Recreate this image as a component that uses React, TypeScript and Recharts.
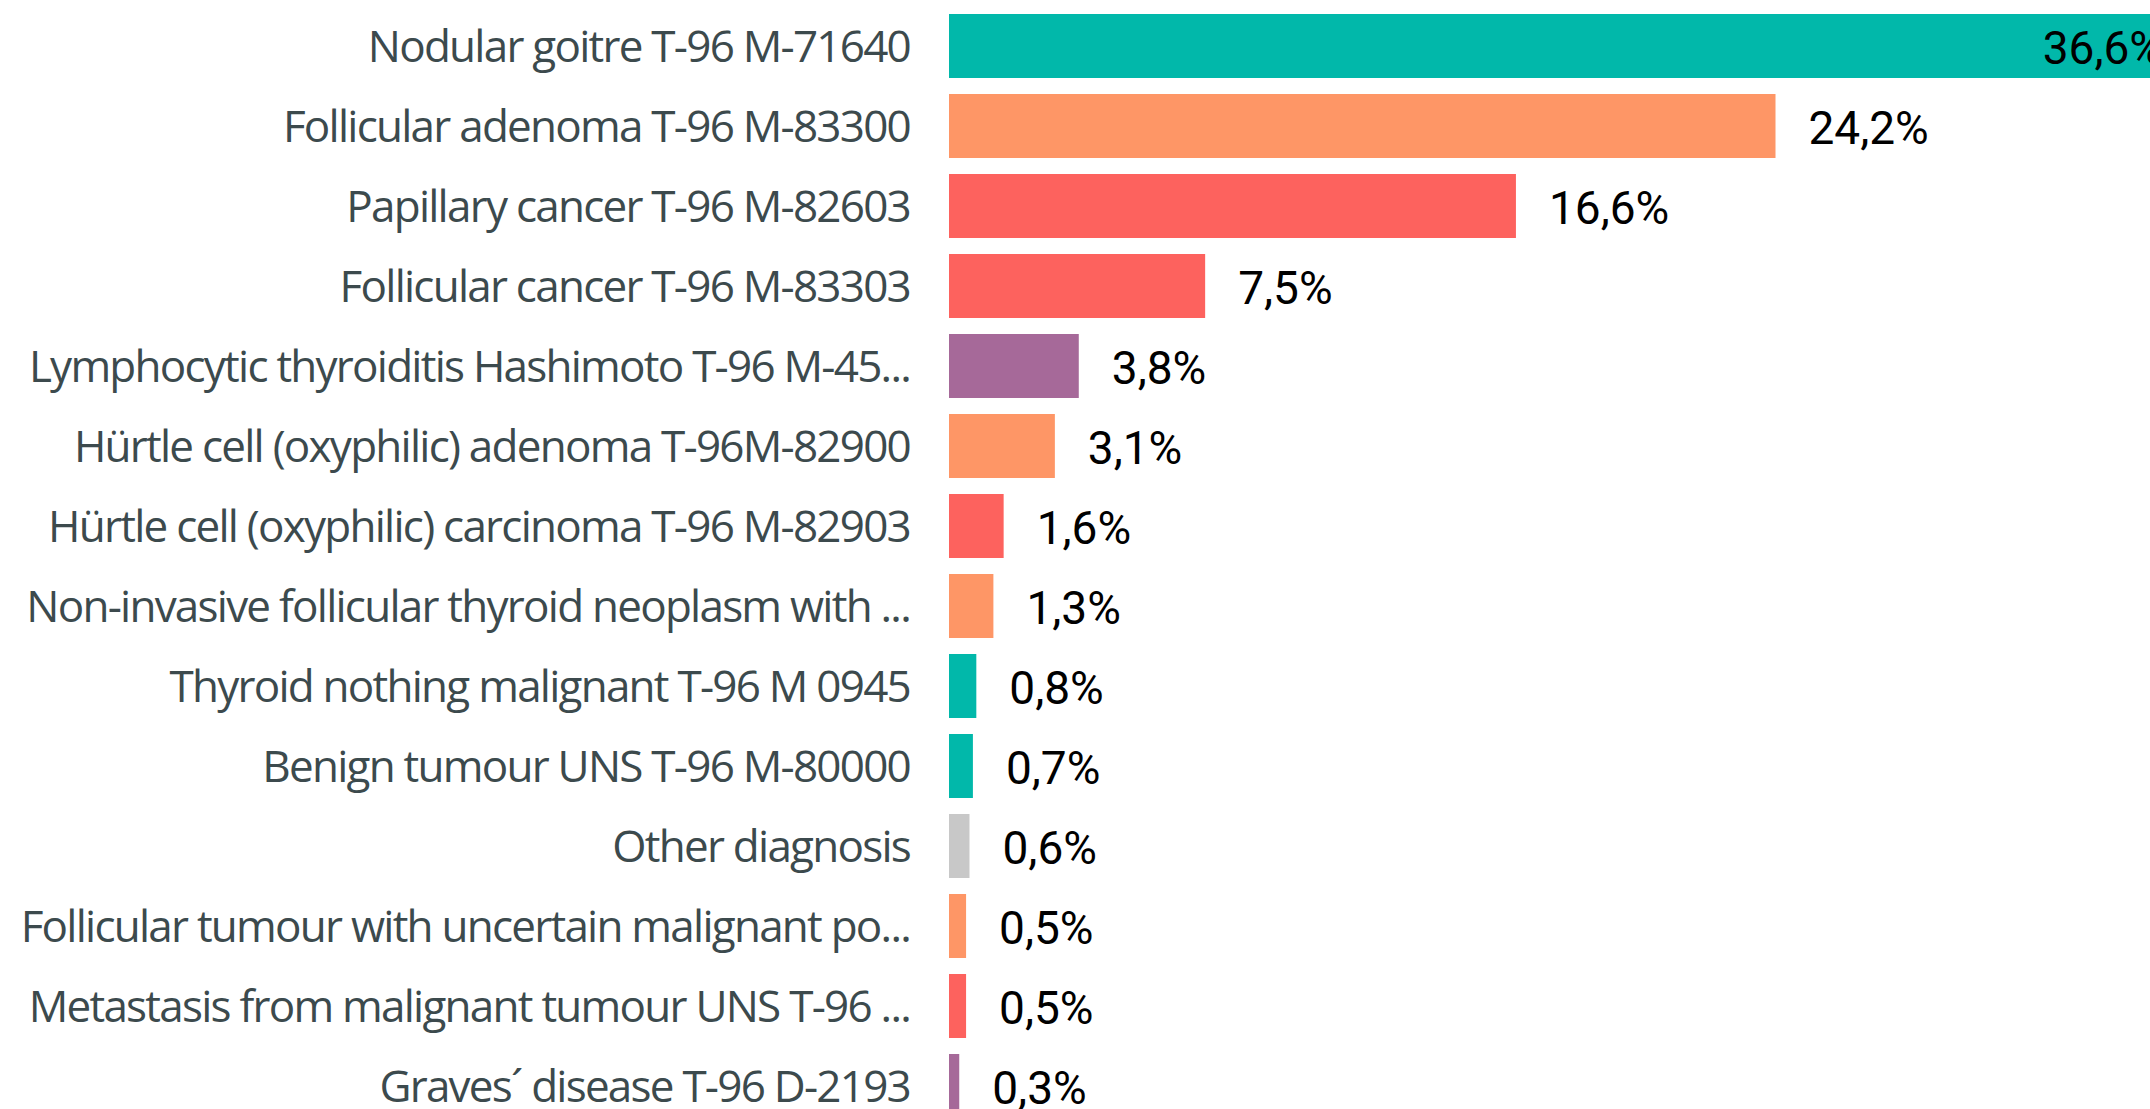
import React from 'react'
import { BarChart, Bar, XAxis, YAxis, Cell, LabelList } from 'recharts'

const diagnoses = [
  'Nodular goitre T-96 M-71640',
  'Follicular adenoma T-96 M-83300',
  'Papillary cancer T-96 M-82603',
  'Follicular cancer T-96 M-83303',
  'Lymphocytic thyroiditis Hashimoto T-96 M-45...',
  'Hürtle cell (oxyphilic) adenoma T-96M-82900',
  'Hürtle cell (oxyphilic) carcinoma T-96 M-82903',
  'Non-invasive follicular thyroid neoplasm with ...',
  'Thyroid nothing malignant T-96 M 0945',
  'Benign tumour UNS T-96 M-80000',
  'Other diagnosis',
  'Follicular tumour with uncertain malignant po...',
  'Metastasis from malignant tumour UNS T-96 ...',
  'Graves´ disease T-96 D-2193',
]

const shares = [36.6, 24.2, 16.6, 7.5, 3.8, 3.1, 1.6, 1.3, 0.8, 0.7, 0.6, 0.5, 0.5, 0.3]

// grouping used for colour: benign / follicular / malignant / autoimmune / other
const groups = [
  'benign', 'follicular', 'malignant', 'malignant', 'autoimmune', 'follicular', 'malignant',
  'follicular', 'benign', 'benign', 'other', 'follicular', 'malignant', 'autoimmune',
]

const groupColors: Record<string, string> = {
  benign: '#01B8AA',
  follicular: '#FE9666',
  malignant: '#FD625E',
  autoimmune: '#A66999',
  other: '#C8C8C8',
}

const data = diagnoses.map((name, i) => ({ name, value: shares[i], group: groups[i] }))
const maxShare = Math.max(...shares)

const fmt = (v: number) => v.toFixed(1).replace('.', ',') + '%'

function ValueLabel(props: any) {
  const { x, y, width, height, value } = props
  const inside = value === maxShare
  const tx = inside ? x + width - 36 : x + width + 33
  return (
    <text
      x={tx}
      y={y + height / 2 + 2}
      dy="0.355em"
      textAnchor={inside ? 'end' : 'start'}
      fill="#000"
      fontFamily="Roboto, sans-serif"
      fontSize={46}
    >
      {fmt(value)}
    </text>
  )
}

export default function App() {
  return (
    <div style={{ position: 'absolute', left: 0, top: 0, width: 2150, height: 1109, overflow: 'hidden', background: '#fff' }}>
      <BarChart
        width={2200}
        height={1126}
        data={data}
        layout="vertical"
        margin={{ top: 6, right: 1, left: 0, bottom: 0 }}
        barCategoryGap="10%"
      >
        <XAxis type="number" domain={[0, maxShare]} hide />
        <YAxis
          type="category"
          dataKey="name"
          width={949}
          tickLine={false}
          axisLine={false}
          tickSize={0}
          tickMargin={39}
          interval={0}
          tick={{ fill: '#3c4a4d', fontSize: 44, fontFamily: "'Open Sans', sans-serif", letterSpacing: -1.75 }}
        />
        <Bar dataKey="value" isAnimationActive={false}>
          {data.map((d) => (
            <Cell key={d.name} fill={groupColors[d.group]} />
          ))}
          <LabelList dataKey="value" content={ValueLabel} />
        </Bar>
      </BarChart>
    </div>
  )
}
